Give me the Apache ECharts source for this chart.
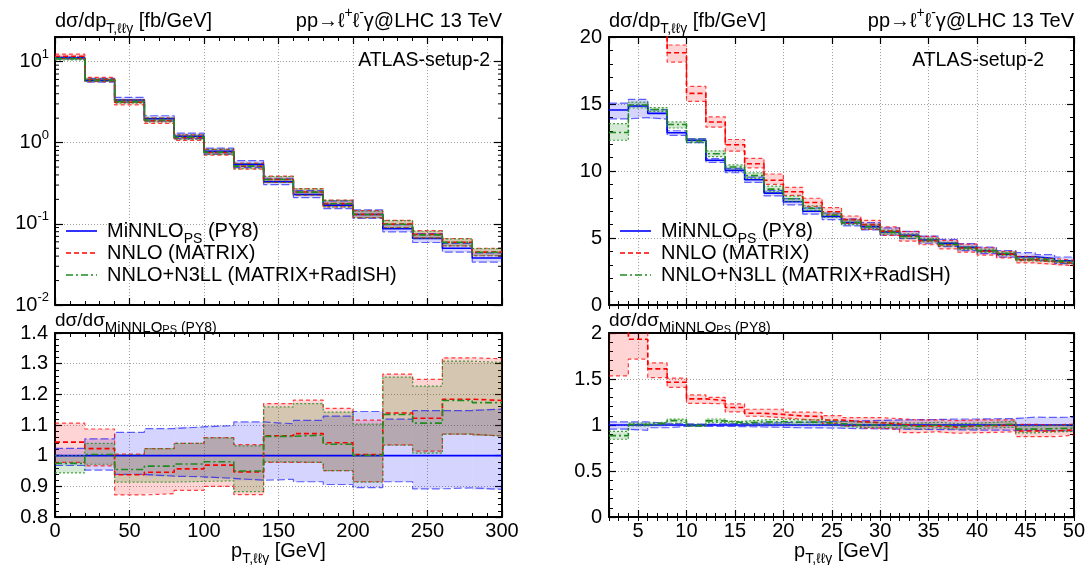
<!DOCTYPE html>
<html><head><meta charset="utf-8">
<script src="https://cdn.jsdelivr.net/npm/echarts@6/dist/echarts.min.js"></script>
<style>html,body{margin:0;padding:0;background:#fff}#c{width:1088px;height:565px}</style>
</head><body><div id="c"></div>
<script>
// ================= DATA =================
// Left: p_T,llγ in 20 GeV bins, 0..300 GeV
const leftEdges = [0,20,40,60,80,100,120,140,160,180,200,220,240,260,280,300];
// MiNNLO_PS (PY8) central value [fb/GeV]
const leftMiNNLO = [11.1,5.85,3.35,1.97,1.2,0.78,0.54,0.33,0.23,0.17,0.13,0.087,0.066,0.05,0.038];
// Ratios to MiNNLO_PS central
const leftMiNNLOLoRatio = [0.968,0.953,0.939,0.933,0.931,0.926,0.92,0.923,0.915,0.906,0.896,0.915,0.892,0.895,0.89];
const leftMiNNLOHiRatio = [1.024,1.055,1.076,1.088,1.094,1.098,1.11,1.104,1.115,1.129,1.144,1.119,1.147,1.147,1.152];
const leftNNLORatio     = [1.044,1.023,0.938,0.946,0.957,0.969,0.947,1.065,1.072,1.042,1.004,1.139,1.122,1.184,1.18];
const leftNNLOLoRatio   = [0.978,0.967,0.872,0.876,0.887,0.9,0.873,0.978,0.978,0.951,0.915,1.035,1.015,1.07,1.064];
const leftNNLOHiRatio   = [1.106,1.087,1.005,1.023,1.04,1.059,1.036,1.17,1.181,1.154,1.116,1.266,1.249,1.319,1.316];
const leftN3LLRatio     = [0.975,1.004,0.955,0.966,0.973,0.98,0.95,1.063,1.067,1.037,1.001,1.134,1.106,1.18,1.173];
const leftN3LLLoRatio   = [0.944,0.972,0.914,0.914,0.916,0.918,0.883,0.98,0.978,0.951,0.914,1.034,1.008,1.07,1.064];
const leftN3LLHiRatio   = [1.0,1.04,1.003,1.023,1.04,1.058,1.032,1.159,1.17,1.142,1.103,1.256,1.227,1.308,1.304];

// Right: p_T,llγ in 2 GeV bins, 2..50 GeV
const rightEdges = [2,4,6,8,10,12,14,16,18,20,22,24,26,28,30,32,34,36,38,40,42,44,46,48,50];
const rightMiNNLO = [14.55,14.85,14.3,12.85,12.3,10.8,10.05,9.35,8.35,7.7,7.0,6.6,6.15,5.85,5.45,5.2,4.85,4.6,4.3,4.05,3.8,3.6,3.47,3.3];
const rightMiNNLOLoRatio = [0.955,0.942,0.97,0.985,0.985,0.985,0.982,0.978,0.975,0.97,0.968,0.965,0.96,0.958,0.955,0.952,0.95,0.948,0.945,0.945,0.942,0.94,0.938,0.935];
const rightMiNNLOHiRatio = [1.035,1.033,1.02,1.012,1.01,1.012,1.015,1.02,1.025,1.03,1.035,1.04,1.045,1.05,1.055,1.058,1.06,1.065,1.065,1.068,1.07,1.085,1.082,1.085];
const rightNNLORatio     = [2.15,1.932,1.61,1.465,1.284,1.265,1.19,1.127,1.115,1.098,1.093,1.055,1.036,1.025,1.011,0.99,0.99,0.977,0.99,0.993,1.0,0.935,0.935,0.945];
const rightNNLOLoRatio   = [1.535,1.716,1.515,1.41,1.236,1.229,1.142,1.095,1.078,1.062,1.05,1.018,0.99,0.965,0.953,0.918,0.927,0.91,0.916,0.92,0.927,0.873,0.873,0.89];
const rightNNLOHiRatio   = [2.5,2.1,1.675,1.51,1.327,1.3,1.229,1.171,1.171,1.14,1.138,1.102,1.08,1.08,1.069,1.055,1.055,1.048,1.055,1.055,1.055,1.007,1.0,1.01];
const rightN3LLRatio     = [0.885,1.005,1.02,1.048,0.995,1.045,1.025,1.033,1.036,1.03,1.032,1.015,1.0,1.0,0.995,0.985,1.0,0.985,0.99,1.0,1.01,0.955,0.96,0.965];
const rightN3LLLoRatio   = [0.845,0.99,1.01,1.028,0.985,1.025,1.01,1.01,1.011,1.005,1.008,0.99,0.975,0.975,0.97,0.955,0.97,0.955,0.96,0.97,0.975,0.915,0.925,0.93];
const rightN3LLHiRatio   = [0.93,1.02,1.03,1.063,1.008,1.065,1.04,1.055,1.062,1.055,1.058,1.04,1.03,1.03,1.025,1.02,1.03,1.015,1.02,1.03,1.04,0.99,0.995,1.0];

// log-axis minor tick values (2..9 per decade)
const logMinorTickValues = [0.02,0.03,0.04,0.05,0.06,0.07,0.08,0.09,0.2,0.3,0.4,0.5,0.6,0.7,0.8,0.9,2,3,4,5,6,7,8,9];

// ================= BUILD =================
const FONT = "'Liberation Sans', Arial, Helvetica, sans-serif";
const mul = (a, r) => a.map((v, i) => v * r[i]);
const div = (a, b) => a.map((v, i) => v / b[i]);

function topModels(m, mLo, mHi, n, nLo, nHi, g, gLo, gHi) {
  return [
    {c: m, lo: mul(m, mLo), hi: mul(m, mHi)},
    {c: mul(m, n), lo: mul(m, nLo), hi: mul(m, nHi)},
    {c: mul(m, g), lo: mul(m, gLo), hi: mul(m, gHi)}
  ];
}
function ratioModels(m, mLo, mHi, n, nLo, nHi, g, gLo, gHi) {
  return [
    {c: div(m, m), lo: mLo, hi: mHi},
    {c: n, lo: nLo, hi: nHi},
    {c: g, lo: gLo, hi: gHi}
  ];
}
const LT = topModels(leftMiNNLO, leftMiNNLOLoRatio, leftMiNNLOHiRatio, leftNNLORatio, leftNNLOLoRatio, leftNNLOHiRatio, leftN3LLRatio, leftN3LLLoRatio, leftN3LLHiRatio);
const LR = ratioModels(leftMiNNLO, leftMiNNLOLoRatio, leftMiNNLOHiRatio, leftNNLORatio, leftNNLOLoRatio, leftNNLOHiRatio, leftN3LLRatio, leftN3LLLoRatio, leftN3LLHiRatio);
const RT = topModels(rightMiNNLO, rightMiNNLOLoRatio, rightMiNNLOHiRatio, rightNNLORatio, rightNNLOLoRatio, rightNNLOHiRatio, rightN3LLRatio, rightN3LLLoRatio, rightN3LLHiRatio);
const RR = ratioModels(rightMiNNLO, rightMiNNLOLoRatio, rightMiNNLOHiRatio, rightNNLORatio, rightNNLOLoRatio, rightNNLOHiRatio, rightN3LLRatio, rightN3LLLoRatio, rightN3LLHiRatio);

const STYLES = [
  {name:'MiNNLO_PS (PY8)', fill:'rgba(0,0,255,0.17)', color:'#0000ff', edge:'rgba(0,0,255,0.6)', cType:'solid', eType:[8,3], cW:1.6, eW:1.2},
  {name:'NNLO (MATRIX)', fill:'rgba(255,0,0,0.17)', color:'#ff0000', edge:'rgba(255,0,0,0.75)', cType:[5,3], eType:[4,3], cW:1.6, eW:1.2},
  {name:'NNLO+N3LL (MATRIX+RadISH)', fill:'rgba(0,128,0,0.17)', color:'#1e8c1e', edge:'rgba(30,140,30,0.8)', cType:[7,3,2,3], eType:[2,2], cW:1.6, eW:1.2}
];

function stepData(edges, vals) {
  return edges.map((e, i) => [e, vals[Math.min(i, vals.length - 1)]]);
}

function panelSeries(edges, models, xi, yi) {
  const out = [];
  models.forEach((m, k) => {
    const st = STYLES[k];
    out.push({
      type: 'custom', name: st.name, xAxisIndex: xi, yAxisIndex: yi, z: 1, silent: true, animation: false,
      data: m.lo.map((l, i) => [edges[i], edges[i + 1], l, m.hi[i]]),
      encode: {x: [0, 1], y: [2, 3]},
      renderItem: function (params, api) {
        const p1 = api.coord([api.value(0), api.value(3)]);
        const p2 = api.coord([api.value(1), api.value(2)]);
        const cs = params.coordSys;
        const shape = echarts.graphic.clipRectByRect(
          {x: p1[0], y: p1[1], width: p2[0] - p1[0], height: p2[1] - p1[1]},
          {x: cs.x, y: cs.y, width: cs.width, height: cs.height});
        if (!shape) return null;
        return {type: 'rect', shape: shape, style: {fill: st.fill}};
      }
    });
  });
  models.forEach((m, k) => {
    const st = STYLES[k];
    [[m.lo, st.edge, st.eW, st.eType], [m.hi, st.edge, st.eW, st.eType], [m.c, st.color, st.cW, st.cType]].forEach(function (d) {
      out.push({
        type: 'line', name: st.name, step: 'end', xAxisIndex: xi, yAxisIndex: yi, z: 2,
        silent: true, animation: false, symbol: 'none', showSymbol: false, clip: true,
        data: stepData(edges, d[0]),
        lineStyle: {color: d[1], width: d[2], type: d[3]}
      });
    });
  });
  return out;
}

const AXLINE = {show: true, onZero: false, lineStyle: {color: '#000', width: 2}};
const TICK = {show: true, inside: true, length: 7, lineStyle: {color: '#000', width: 1.2}};
const SHORT = {show: true, inside: true, length: 4, lineStyle: {color: '#000', width: 1}};
const MINOR = {show: true, splitNumber: 5, length: 4, lineStyle: {color: '#000', width: 1}};
const NOMINOR = {show: false};
const SPLIT = {show: true, lineStyle: {color: '#a0a0a0', width: 1, type: [1, 2]}};
const NOSPLIT = {show: false};
const NOLABEL = {show: false};
const LABEL = {show: true, color: '#000', fontSize: 20, fontFamily: FONT, margin: 4};
const YLABEL = {show: true, color: '#000', fontSize: 20, fontFamily: FONT, margin: 7};

function ax(g, pos, range, opts) {
  return Object.assign({gridIndex: g, type: 'value', position: pos, axisLine: AXLINE, axisTick: TICK,
    minorTick: NOMINOR, splitLine: NOSPLIT, axisLabel: NOLABEL}, range, opts || {});
}
const LX = {min: 0, max: 300, interval: 50};
const RX = {min: 2, max: 50, splitNumber: 10};
const RXm = {min: 2, max: 50, interval: 1};
const hide2 = v => (v % 5 === 0 ? String(v) : '');

const xAxis = [
  ax(0, 'bottom', LX, {minorTick: MINOR, splitLine: SPLIT}),
  ax(0, 'top', LX, {minorTick: MINOR}),
  ax(1, 'bottom', LX, {minorTick: MINOR, splitLine: SPLIT, axisLabel: LABEL}),
  ax(1, 'top', LX, {minorTick: MINOR}),
  ax(2, 'bottom', RX, {splitLine: SPLIT}),
  ax(2, 'top', RX),
  ax(2, 'bottom', RXm, {axisLine: {show: false}, axisTick: SHORT}),
  ax(2, 'top', RXm, {axisLine: {show: false}, axisTick: SHORT}),
  ax(3, 'bottom', RX, {splitLine: SPLIT, axisLabel: Object.assign({}, LABEL, {formatter: hide2})}),
  ax(3, 'top', RX),
  ax(3, 'bottom', RXm, {axisLine: {show: false}, axisTick: SHORT}),
  ax(3, 'top', RXm, {axisLine: {show: false}, axisTick: SHORT})
];

function logFmt(v) {
  const e = Math.log10(v), r = Math.round(e);
  if (Math.abs(e - r) > 1e-6) return '';
  return '{b|10}{s|' + r + '}';
}
const LOGLABEL = {show: true, margin: 6, formatter: logFmt,
  rich: {b: {fontSize: 20, fontFamily: FONT, color: '#000', lineHeight: 28, verticalAlign: 'middle'},
         s: {fontSize: 13, fontFamily: FONT, color: '#000', lineHeight: 17, verticalAlign: 'top'}}};
const LOGY = {type: 'log', logBase: 10, min: 0.01, max: 20};

const yAxis = [
  ax(0, 'left', LOGY, {axisTick: Object.assign({}, TICK, {length: 8}), splitLine: SPLIT, axisLabel: LOGLABEL}),
  ax(0, 'right', LOGY, {axisTick: Object.assign({}, TICK, {length: 8})}),
  ax(1, 'left', {min: 0.8, max: 1.4, interval: 0.1}, {minorTick: MINOR, splitLine: SPLIT, axisLabel: YLABEL}),
  ax(1, 'right', {min: 0.8, max: 1.4, interval: 0.1}, {minorTick: MINOR}),
  ax(2, 'left', {min: 0, max: 20, interval: 5}, {minorTick: MINOR, splitLine: SPLIT, axisLabel: YLABEL}),
  ax(2, 'right', {min: 0, max: 20, interval: 5}, {minorTick: MINOR}),
  ax(3, 'left', {min: 0, max: 2, interval: 0.5}, {minorTick: MINOR, splitLine: SPLIT, axisLabel: YLABEL}),
  ax(3, 'right', {min: 0, max: 2, interval: 0.5}, {minorTick: MINOR})
];

const series = [].concat(
  panelSeries(leftEdges, LT, 0, 0),
  panelSeries(leftEdges, LR, 2, 2),
  panelSeries(rightEdges, RT, 4, 4),
  panelSeries(rightEdges, RR, 8, 6)
);
// minor ticks of the log axis (left and right frame)
series.push({
  type: 'custom', xAxisIndex: 0, yAxisIndex: 0, silent: true, z: 3, animation: false,
  data: logMinorTickValues.map(v => [0, v]), encode: {x: 0, y: 1},
  renderItem: function (params, api) {
    const cs = params.coordSys;
    const y = api.coord([0, api.value(1)])[1];
    return {type: 'group', children: [
      {type: 'line', shape: {x1: cs.x, y1: y, x2: cs.x + 4, y2: y}, style: {stroke: '#000', lineWidth: 1}},
      {type: 'line', shape: {x1: cs.x + cs.width - 4, y1: y, x2: cs.x + cs.width, y2: y}, style: {stroke: '#000', lineWidth: 1}}
    ]};
  }
});

// ---- texts ----
const R20 = {
  a: {fontSize: 20, fontFamily: FONT, fill: '#000', lineHeight: 30, verticalAlign: 'middle'},
  s: {fontSize: 14, fontFamily: FONT, fill: '#000', lineHeight: 17, verticalAlign: 'bottom'},
  p: {fontSize: 14, fontFamily: FONT, fill: '#000', lineHeight: 17, verticalAlign: 'top'}
};
const RHDR = {
  a: {fontSize: 19, fontFamily: FONT, fill: '#000', lineHeight: 28, verticalAlign: 'middle'},
  s: {fontSize: 15, fontFamily: FONT, fill: '#000', lineHeight: 18, verticalAlign: 'bottom'},
  ss: {fontSize: 11, fontFamily: FONT, fill: '#000', lineHeight: 11, verticalAlign: 'bottom'},
  t: {fontSize: 14, fontFamily: FONT, fill: '#000', lineHeight: 18, verticalAlign: 'bottom'}
};
function txt(x, y, text, rich, align) {
  return {type: 'text', x: x, y: y, silent: true, z: 10,
    style: {text: text, rich: rich, fontSize: 20, fontFamily: FONT, fill: '#000',
            align: align, textAlign: align, verticalAlign: 'middle', textVerticalAlign: 'middle'}};
}
const graphics = [];
const panels = [
  {x0: 55, x1: 502},
  {x0: 609, x1: 1074}
];
const legendTexts = [
  '{a|MiNNLO}{s|PS}{a| (PY8)}',
  '{a|NNLO (MATRIX)}',
  '{a|NNLO+N3LL (MATRIX+RadISH)}'
];
const legendRows = [231, 253, 275];
panels.forEach(function (p) {
  graphics.push(txt(p.x0, 21, '{a|dσ/dp}{s|T,ℓℓγ}{a| [fb/GeV]}', R20, 'left'));
  graphics.push(txt(p.x1, 21, '{a|pp→ℓ}{p|+}{a|ℓ}{p|-}{a|γ@LHC 13 TeV}', R20, 'right'));
  graphics.push(txt(p.x0 + 435, 61, '{a|ATLAS-setup-2}', {a: {fontSize: 19.5, fontFamily: FONT, fill: '#000'}}, 'right'));
  graphics.push(txt(p.x0, 321, '{a|dσ/dσ}{s|MiNNLO}{ss|PS}{t| (PY8)}', RHDR, 'left'));
  graphics.push(txt((p.x0 + p.x1) / 2, 551, '{a|p}{s|T,ℓℓγ}{a| [GeV]}', R20, 'center'));
  STYLES.forEach(function (st, k) {
    graphics.push({type: 'line', silent: true, z: 10,
      shape: {x1: p.x0 + 11, y1: legendRows[k], x2: p.x0 + 42, y2: legendRows[k]},
      style: {stroke: st.color, lineWidth: 1.6, lineDash: st.cType === 'solid' ? null : st.cType}});
    graphics.push(txt(p.x0 + 52, legendRows[k], legendTexts[k], R20, 'left'));
  });
});

const chart = echarts.init(document.getElementById('c'), null, {renderer: 'canvas', width: 1088, height: 565});
chart.setOption({
  animation: false,
  backgroundColor: '#fff',
  textStyle: {fontFamily: FONT},
  grid: [
    {left: 55, top: 37, width: 447, height: 268},
    {left: 55, top: 333, width: 447, height: 184},
    {left: 609, top: 37, width: 465, height: 268},
    {left: 609, top: 333, width: 465, height: 184}
  ],
  xAxis: xAxis,
  yAxis: yAxis,
  series: series,
  graphic: graphics
});
</script>
</body></html>
